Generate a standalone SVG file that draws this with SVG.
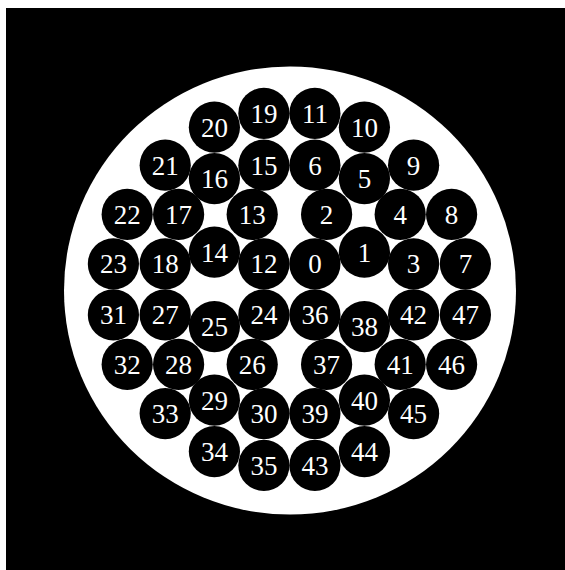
<svg xmlns="http://www.w3.org/2000/svg" width="565" height="570" viewBox="0 0 565 570">
<style>
.n circle{fill:#000;}
.n text{fill:#fff;font-family:"Liberation Serif","Times New Roman",serif;font-size:27px;text-anchor:middle;}
</style>
<rect x="0" y="0" width="565" height="570" fill="#fff"/>
<rect x="6" y="8" width="559" height="562" fill="#000"/>
<ellipse cx="290" cy="290.5" rx="226" ry="224" fill="#fff"/>
<g id="connectors"></g>
<g id="n0" class="n"><circle cx="314.9" cy="263.9" r="25.6"/><text x="314.9" y="273.4">0</text></g>
<g id="n1" class="n"><circle cx="364.4" cy="252.2" r="25.6"/><text x="364.4" y="261.7">1</text></g>
<g id="n2" class="n"><circle cx="326.6" cy="214.4" r="25.6"/><text x="326.6" y="223.9">2</text></g>
<g id="n3" class="n"><circle cx="413.6" cy="263.9" r="25.6"/><text x="413.6" y="273.4">3</text></g>
<g id="n4" class="n"><circle cx="400.2" cy="214.4" r="25.6"/><text x="400.2" y="223.9">4</text></g>
<g id="n5" class="n"><circle cx="364.4" cy="178.6" r="25.6"/><text x="364.4" y="188.1">5</text></g>
<g id="n6" class="n"><circle cx="314.9" cy="165.2" r="25.6"/><text x="314.9" y="174.7">6</text></g>
<g id="n7" class="n"><circle cx="465.4" cy="263.9" r="25.6"/><text x="465.4" y="273.4">7</text></g>
<g id="n8" class="n"><circle cx="451.6" cy="214.4" r="25.6"/><text x="451.6" y="223.9">8</text></g>
<g id="n9" class="n"><circle cx="413.6" cy="165.2" r="25.6"/><text x="413.6" y="174.7">9</text></g>
<g id="n10" class="n"><circle cx="364.4" cy="127.2" r="25.6"/><text x="364.4" y="136.7">10</text></g>
<g id="n11" class="n"><circle cx="314.9" cy="113.4" r="25.6"/><text x="314.9" y="122.9">11</text></g>
<g id="n12" class="n"><circle cx="263.9" cy="263.9" r="25.6"/><text x="263.9" y="273.4">12</text></g>
<g id="n13" class="n"><circle cx="252.2" cy="214.4" r="25.6"/><text x="252.2" y="223.9">13</text></g>
<g id="n14" class="n"><circle cx="214.4" cy="252.2" r="25.6"/><text x="214.4" y="261.7">14</text></g>
<g id="n15" class="n"><circle cx="263.9" cy="165.2" r="25.6"/><text x="263.9" y="174.7">15</text></g>
<g id="n16" class="n"><circle cx="214.4" cy="178.6" r="25.6"/><text x="214.4" y="188.1">16</text></g>
<g id="n17" class="n"><circle cx="178.6" cy="214.4" r="25.6"/><text x="178.6" y="223.9">17</text></g>
<g id="n18" class="n"><circle cx="165.2" cy="263.9" r="25.6"/><text x="165.2" y="273.4">18</text></g>
<g id="n19" class="n"><circle cx="263.9" cy="113.4" r="25.6"/><text x="263.9" y="122.9">19</text></g>
<g id="n20" class="n"><circle cx="214.4" cy="127.2" r="25.6"/><text x="214.4" y="136.7">20</text></g>
<g id="n21" class="n"><circle cx="165.2" cy="165.2" r="25.6"/><text x="165.2" y="174.7">21</text></g>
<g id="n22" class="n"><circle cx="127.2" cy="214.4" r="25.6"/><text x="127.2" y="223.9">22</text></g>
<g id="n23" class="n"><circle cx="113.4" cy="263.9" r="25.6"/><text x="113.4" y="273.4">23</text></g>
<g id="n24" class="n"><circle cx="263.9" cy="314.9" r="25.6"/><text x="263.9" y="324.4">24</text></g>
<g id="n25" class="n"><circle cx="214.4" cy="326.6" r="25.6"/><text x="214.4" y="336.1">25</text></g>
<g id="n26" class="n"><circle cx="252.2" cy="364.4" r="25.6"/><text x="252.2" y="373.9">26</text></g>
<g id="n27" class="n"><circle cx="165.2" cy="314.9" r="25.6"/><text x="165.2" y="324.4">27</text></g>
<g id="n28" class="n"><circle cx="178.6" cy="364.4" r="25.6"/><text x="178.6" y="373.9">28</text></g>
<g id="n29" class="n"><circle cx="214.4" cy="400.2" r="25.6"/><text x="214.4" y="409.7">29</text></g>
<g id="n30" class="n"><circle cx="263.9" cy="413.6" r="25.6"/><text x="263.9" y="423.1">30</text></g>
<g id="n31" class="n"><circle cx="113.4" cy="314.9" r="25.6"/><text x="113.4" y="324.4">31</text></g>
<g id="n32" class="n"><circle cx="127.2" cy="364.4" r="25.6"/><text x="127.2" y="373.9">32</text></g>
<g id="n33" class="n"><circle cx="165.2" cy="413.6" r="25.6"/><text x="165.2" y="423.1">33</text></g>
<g id="n34" class="n"><circle cx="214.4" cy="451.6" r="25.6"/><text x="214.4" y="461.1">34</text></g>
<g id="n35" class="n"><circle cx="263.9" cy="465.4" r="25.6"/><text x="263.9" y="474.9">35</text></g>
<g id="n36" class="n"><circle cx="314.9" cy="314.9" r="25.6"/><text x="314.9" y="324.4">36</text></g>
<g id="n37" class="n"><circle cx="326.6" cy="364.4" r="25.6"/><text x="326.6" y="373.9">37</text></g>
<g id="n38" class="n"><circle cx="364.4" cy="326.6" r="25.6"/><text x="364.4" y="336.1">38</text></g>
<g id="n39" class="n"><circle cx="314.9" cy="413.6" r="25.6"/><text x="314.9" y="423.1">39</text></g>
<g id="n40" class="n"><circle cx="364.4" cy="400.2" r="25.6"/><text x="364.4" y="409.7">40</text></g>
<g id="n41" class="n"><circle cx="400.2" cy="364.4" r="25.6"/><text x="400.2" y="373.9">41</text></g>
<g id="n42" class="n"><circle cx="413.6" cy="314.9" r="25.6"/><text x="413.6" y="324.4">42</text></g>
<g id="n43" class="n"><circle cx="314.9" cy="465.4" r="25.6"/><text x="314.9" y="474.9">43</text></g>
<g id="n44" class="n"><circle cx="364.4" cy="451.6" r="25.6"/><text x="364.4" y="461.1">44</text></g>
<g id="n45" class="n"><circle cx="413.6" cy="413.6" r="25.6"/><text x="413.6" y="423.1">45</text></g>
<g id="n46" class="n"><circle cx="451.6" cy="364.4" r="25.6"/><text x="451.6" y="373.9">46</text></g>
<g id="n47" class="n"><circle cx="465.4" cy="314.9" r="25.6"/><text x="465.4" y="324.4">47</text></g>
</svg>
